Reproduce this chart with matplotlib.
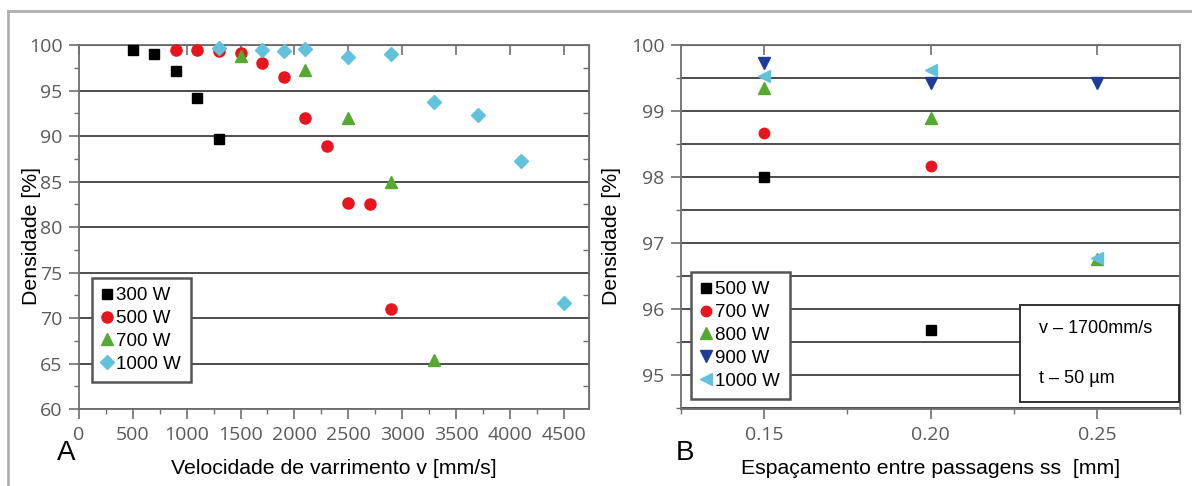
import matplotlib
matplotlib.use("Agg")
import matplotlib.pyplot as plt
from matplotlib.lines import Line2D
from matplotlib.patches import Rectangle
from matplotlib.ticker import MultipleLocator

# ---- data, panel A (density vs scan speed)
v_300 = [500, 700, 900, 1100, 1300]
d_300 = [99.5, 99.0, 97.1, 94.2, 89.7]
v_500 = [900, 1100, 1300, 1500, 1700, 1900, 2100, 2300, 2500, 2700, 2900]
d_500 = [99.5, 99.5, 99.3, 99.1, 98.0, 96.5, 92.0, 88.9, 82.6, 82.5, 71.0]
v_700 = [1500, 2100, 2500, 2900, 3300]
d_700 = [98.8, 97.2, 92.0, 85.0, 65.4]
v_1000 = [1300, 1700, 1900, 2100, 2500, 2900, 3300, 3700, 4100, 4500]
d_1000 = [99.7, 99.5, 99.3, 99.6, 98.7, 99.0, 93.7, 92.3, 87.3, 71.7]
labels_a = ["300 W", "500 W", "700 W", "1000 W"]

# ---- data, panel B (density vs hatch spacing)
ss = [0.15, 0.20, 0.25]
b_500 = [98.0, 95.68]
b_700 = [98.66, 98.16]
b_800 = [99.35, 98.89, 96.75]
b_900 = [99.72, 99.42, 99.43]
b_1000 = [99.53, 99.62, 96.77]
labels_b = ["500 W", "700 W", "800 W", "900 W", "1000 W"]

BLACK = "#000000"
RED = "#e8141e"
GREEN = "#55a832"
CYAN = "#62c2dc"
NAVY = "#1f3c96"
GRID = "#4d4d4d"
SPINE = "#6e6e6e"
TICKC = "#5a5a5a"

W, H = 1192, 486
fig = plt.figure(figsize=(W / 100, H / 100), dpi=100)

def px(l, t, r, b):
    return [l / W, 1 - b / H, (r - l) / W, (b - t) / H]

labfont = {"family": "Liberation Sans", "size": 15.3}
legprop = {"family": "Liberation Sans", "size": 13.5}

def style(ax):
    for s in ax.spines.values():
        s.set_color(SPINE)
        s.set_linewidth(1.3)
    ax.tick_params(which="major", direction="out", length=7, width=1.2,
                   color=SPINE, pad=5, labelcolor=TICKC, labelsize=14)
    ax.tick_params(which="minor", direction="out", length=3.5, width=1.0,
                   color=SPINE)
    for lab in ax.get_xticklabels() + ax.get_yticklabels():
        lab.set_fontfamily("Open Sans")
    ax.set_axisbelow(True)

# ---------------- panel A
ax1 = fig.add_axes(px(79, 45, 589, 409))
ax1.plot(v_300, d_300, ls="none", marker="s", ms=7, color=BLACK, label=labels_a[0], clip_on=False, zorder=3)
ax1.plot(v_500, d_500, ls="none", marker="o", ms=8, color=RED, label=labels_a[1], clip_on=False, zorder=3)
ax1.plot(v_700, d_700, ls="none", marker="^", ms=8.5, color=GREEN, label=labels_a[2], clip_on=False, zorder=3)
ax1.plot(v_1000, d_1000, ls="none", marker="D", ms=7, color=CYAN, label=labels_a[3], clip_on=False, zorder=3)
ax1.set_xlim(0, 4735)
ax1.set_ylim(60, 100)
ax1.xaxis.set_major_locator(MultipleLocator(500))
ax1.xaxis.set_minor_locator(MultipleLocator(250))
ax1.yaxis.set_major_locator(MultipleLocator(5))
ax1.yaxis.set_minor_locator(MultipleLocator(2.5))
ax1.grid(axis="y", which="major", color=GRID, lw=1.4)
style(ax1)

# inward ticks on top and right edges
top1 = ax1.secondary_xaxis("top")
top1.xaxis.set_major_locator(MultipleLocator(500))
top1.tick_params(which="major", direction="in", length=7, width=1.2, color=SPINE, labeltop=False)
top1.spines["top"].set_color(SPINE)
right1 = ax1.secondary_yaxis("right")
right1.yaxis.set_major_locator(MultipleLocator(5))
right1.yaxis.set_minor_locator(MultipleLocator(2.5))
right1.tick_params(which="major", length=0, labelright=False)
right1.tick_params(which="minor", direction="in", length=4, width=1.0, color=SPINE)
right1.spines["right"].set_color(SPINE)

ax1.set_xlabel("Velocidade de varrimento v [mm/s]", fontdict=labfont, labelpad=11)
ax1.set_ylabel("Densidade [%]", fontdict=labfont)
ax1.yaxis.set_label_coords((41 - 79) / 510, (409 - 236) / 364)
leg1 = ax1.legend(loc="upper left", bbox_to_anchor=(92 / W, 1 - 278 / H),
                  bbox_transform=fig.transFigure, borderaxespad=0, prop=legprop,
                  handlelength=0.6, handletextpad=0.2, labelspacing=0.3,
                  borderpad=0.5, fancybox=False, framealpha=1)
leg1.get_frame().set_edgecolor("#555555")
leg1.get_frame().set_linewidth(1.8)
fig.text(66 / W, 1 - 453 / H, "A", ha="center", va="center",
         family="Liberation Sans", size=20)

# ---------------- panel B
ax2 = fig.add_axes(px(681, 45, 1180, 409))
ax2.plot(ss[:2], b_500, ls="none", marker="s", ms=6.5, color=BLACK, label=labels_b[0], zorder=3)
ax2.plot(ss[:2], b_700, ls="none", marker="o", ms=7.5, color=RED, label=labels_b[1], zorder=3)
ax2.plot(ss, b_800, ls="none", marker="^", ms=8.5, color=GREEN, label=labels_b[2], zorder=3)
ax2.plot(ss, b_900, ls="none", marker="v", ms=8.5, color=NAVY, label=labels_b[3], zorder=3)
ax2.plot(ss, b_1000, ls="none", marker="<", ms=8.5, color=CYAN, label=labels_b[4], zorder=3)
ax2.set_xlim(0.125, 0.275)
ax2.set_ylim(94.48, 100)
ax2.set_xticks(ss)
ax2.set_xticklabels(["0.15", "0.20", "0.25"])
ax2.xaxis.set_minor_locator(MultipleLocator(0.025))
ax2.yaxis.set_major_locator(MultipleLocator(1))
ax2.yaxis.set_minor_locator(MultipleLocator(0.5))
ax2.grid(axis="y", which="both", color=GRID, lw=1.4)
style(ax2)

top2 = ax2.secondary_xaxis("top")
top2.set_xticks(ss)
top2.tick_params(which="major", direction="in", length=7, width=1.2, color=SPINE, labeltop=False)
top2.spines["top"].set_color(SPINE)

ax2.set_xlabel("Espaçamento entre passagens ss  [mm]", fontdict=labfont, labelpad=11)
ax2.set_ylabel("Densidade [%]", fontdict=labfont)
ax2.yaxis.set_label_coords((621 - 681) / 499, (409 - 236) / 364)
leg2 = ax2.legend(loc="upper left", bbox_to_anchor=(691 / W, 1 - 272 / H),
                  bbox_transform=fig.transFigure, borderaxespad=0, prop=legprop,
                  handlelength=0.6, handletextpad=0.2, labelspacing=0.3,
                  borderpad=0.5, fancybox=False, framealpha=1)
leg2.get_frame().set_edgecolor("#555555")
leg2.get_frame().set_linewidth(1.8)
fig.text(685 / W, 1 - 453 / H, "B", ha="center", va="center",
         family="Liberation Sans", size=20)

# note box with process parameters
fig.add_artist(Rectangle((1020 / W, 1 - 402 / H), 159 / W, 97 / H,
                         transform=fig.transFigure, facecolor="white",
                         edgecolor="#222222", lw=1.3, zorder=5))
fig.text(1039 / W, 1 - 328 / H, "v \u2013 1700mm/s", va="center",
         family="Liberation Sans", size=13, zorder=6)
fig.text(1039 / W, 1 - 378 / H, "t \u2013 50 \u00b5m", va="center",
         family="Liberation Sans", size=13, zorder=6)

# outer frame (top and left)
fig.add_artist(Line2D([8 / W, 1], [1 - 11 / H, 1 - 11 / H], color="#b0b0b0", lw=2))
fig.add_artist(Line2D([8 / W, 8 / W], [0, 1 - 11 / H], color="#b0b0b0", lw=2))

fig.savefig("out.png", dpi=100)
